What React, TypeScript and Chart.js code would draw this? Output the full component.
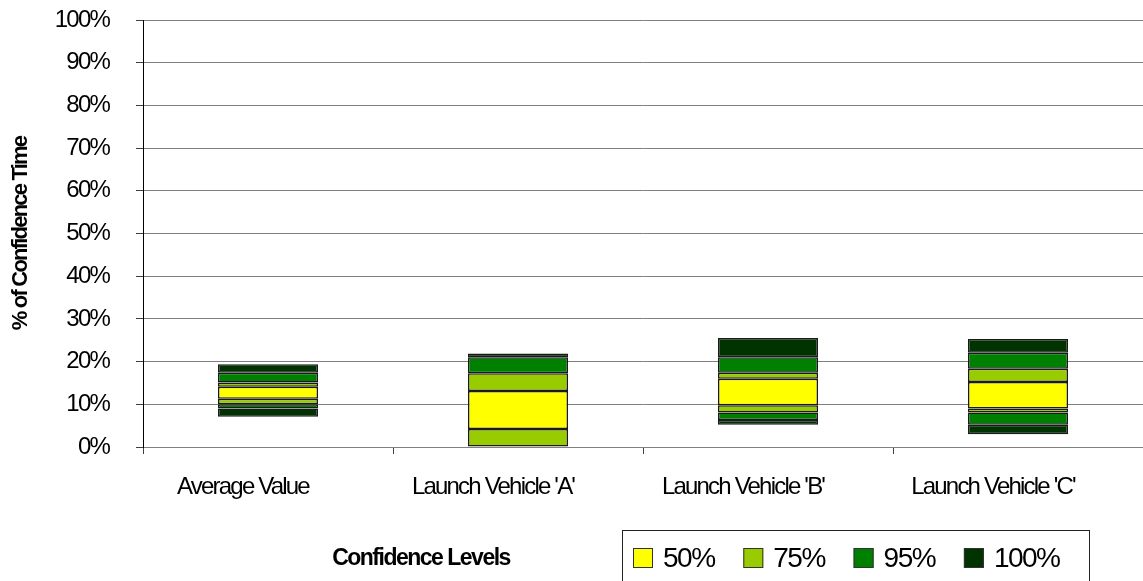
import React, { useEffect, useRef } from 'react';
import { Chart, registerables } from 'chart.js';

Chart.register(...registerables);

const categories = ['Average Value', "Launch Vehicle 'A'", "Launch Vehicle 'B'", "Launch Vehicle 'C'"];
const levelLabels = ['50%', '75%', '95%', '100%'];
const levelColors = ['#FFFF00', '#99CC00', '#008000', '#003300'];
const yTitle = '% of Confidence Time';
const xTitle = 'Confidence Levels';

// band boundaries (% of time) per category
const low100 = [7.1, 0, 5.2, 3.0];
const low95 = [9.0, 0, 6.3, 5.2];
const low75 = [10.0, 0, 8.1, 8.1];
const low50 = [11.3, 4.2, 9.8, 9.0];
const high50 = [14.1, 13.1, 16.0, 15.2];
const high75 = [15.1, 17.3, 17.4, 18.3];
const high95 = [17.4, 21.0, 21.0, 22.1];
const high100 = [19.4, 21.9, 25.5, 25.3];

const FONT = "'Liberation Sans', Arial, sans-serif";

const span = (a: number[], b: number[]) => a.map((v, i) => [v, b[i]]);

const spacingPlugin = {
  id: 'spacing',
  beforeUpdate(c: any) {
    c.ctx.letterSpacing = '-1.8px';
  },
  beforeDraw(c: any) {
    c.ctx.letterSpacing = '-1.8px';
  },
};

const legendPlugin = {
  id: 'customLegend',
  afterDraw(c: any) {
    const ctx = c.ctx as CanvasRenderingContext2D;
    ctx.save();
    (ctx as any).letterSpacing = '-1.5px';
    ctx.fillStyle = '#000';
    ctx.font = `bold 23px ${FONT}`;
    ctx.textAlign = 'center';
    ctx.textBaseline = 'alphabetic';
    ctx.fillText(xTitle, 421, 565);
    ctx.strokeStyle = '#222';
    ctx.lineWidth = 1;
    ctx.strokeRect(622.5, 530.5, 467, 70);
    ctx.font = `28px ${FONT}`;
    ctx.textAlign = 'left';
    levelLabels.forEach((lab, i) => {
      const x = 633 + i * 110.3;
      ctx.fillStyle = levelColors[i];
      ctx.fillRect(x, 548, 20, 20);
      ctx.strokeStyle = '#333';
      ctx.strokeRect(x + 0.5, 548.5, 19, 19);
      ctx.fillStyle = '#000';
      ctx.fillText(lab, x + 30, 567);
    });
    ctx.restore();
  },
};

export default function App() {
  const ref = useRef<HTMLCanvasElement>(null);
  useEffect(() => {
    if (!ref.current) return;
    const mk = (label: string, data: number[][], ci: number) => ({
      label,
      data,
      backgroundColor: levelColors[ci],
      borderColor: '#1a1a1a',
      borderWidth: 1.5,
      borderSkipped: false,
    });
    const chart = new Chart(ref.current, {
      type: 'bar',
      data: {
        labels: categories,
        datasets: [
          mk(levelLabels[0], span(low50, high50), 0),
          mk(levelLabels[1], span(low75, low50), 1),
          mk(levelLabels[1], span(high50, high75), 1),
          mk(levelLabels[2], span(low95, low75), 2),
          mk(levelLabels[2], span(high75, high95), 2),
          mk(levelLabels[3], span(low100, low95), 3),
          mk(levelLabels[3], span(high95, high100), 3),
        ] as any,
      },
      options: {
        animation: false,
        responsive: false,
        layout: { padding: { top: 0, left: 0, right: 0, bottom: 0 } },
        plugins: { legend: { display: false }, tooltip: { enabled: false } },
        datasets: { bar: { grouped: false, categoryPercentage: 0.4, barPercentage: 1 } } as any,
        scales: {
          x: {
            grid: { offset: true, drawOnChartArea: false, tickLength: 7, tickColor: '#404040' },
            border: { color: '#808080' },
            ticks: {
              font: { family: FONT, size: 24 },
              color: '#000',
              labelOffset: -25,
              padding: 19,
              maxRotation: 0,
              autoSkip: false,
            },
            afterFit(s: any) {
              s.height = 134;
            },
          },
          y: {
            min: 0,
            max: 100,
            ticks: {
              stepSize: 10,
              callback: (v: any) => v + '%',
              font: { family: FONT, size: 24 },
              color: '#000',
              padding: 27,
            },
            grid: { color: '#808080', tickLength: 7, tickColor: '#404040' },
            border: { color: '#000' },
            title: {
              display: true,
              text: yTitle,
              color: '#000',
              font: { family: FONT, size: 22, weight: 'bold' },
              padding: { top: 8, bottom: 0 },
            },
            afterFit(s: any) {
              s.width = 143;
              s.paddingTop = 20;
              s.paddingBottom = 0;
            },
          },
        },
      } as any,
      plugins: [spacingPlugin, legendPlugin],
    });
    return () => chart.destroy();
  }, []);
  return (
    <div style={{ position: 'fixed', left: 0, top: 0, width: 1143, height: 581, background: '#fff' }}>
      <canvas ref={ref} width={1143} height={581} style={{ display: 'block' }} />
    </div>
  );
}
